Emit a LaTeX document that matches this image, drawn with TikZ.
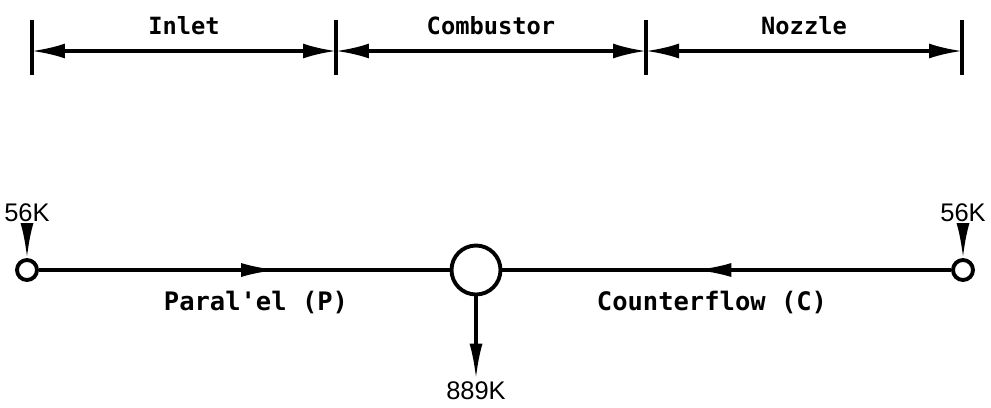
\documentclass[tikz,border=0pt]{standalone}
\usepackage{fontspec}
\setmonofont{DejaVu Sans Mono}
\setsansfont{Liberation Sans}
\usetikzlibrary{arrows.meta,decorations.markings}

\tikzset{
  span/.style={{Latex[length=0.66cm,width=0.3cm]}-{Latex[length=0.66cm,width=0.3cm]}},
  feed/.style={-{Latex[length=0.7cm,width=0.26cm]}},
  flowmark/.style={postaction={decorate},
    decoration={markings, mark=at position #1 with {\arrow{Latex[length=0.72cm,width=0.28cm]}}}},
  junction/.style={circle, draw, line width=2.2pt, inner sep=0pt, minimum size=#1},
  seclabel/.style={font=\ttfamily\bfseries\fontsize{13.5}{15}\selectfont},
  flowlabel/.style={font=\ttfamily\bfseries\fontsize{14.5}{17}\selectfont},
  templabel/.style={font=\sffamily\fontsize{14.5}{16}\selectfont, inner sep=1pt}
}

\begin{document}
\begin{tikzpicture}[x=0.02cm,y=0.02cm,line width=1.8pt]
\useasboundingbox (0,0) rectangle (991,-407);

% engine sections
\foreach \n/\x in {a/32,b/336,c/646,d/962} {
  \coordinate (t\n) at (\x,-51);
  \draw (\x,-20) -- (\x,-75);
}
\draw[span] (ta) -- (tb) node[midway,above=5pt,seclabel] (inlet) {Inlet};
\draw[span] (tb) -- (tc) node[midway,above=5pt,seclabel] (comb) {Combustor};
\draw[span] (tc) -- (td) node[midway,above=5pt,seclabel] (nozz) {Nozzle};

% flow path
\node[junction=0.4cm] (inP) at (27,-270) {};
\node[junction=0.98cm] (mix) at (476,-270) {};
\node[junction=0.4cm] (inC) at (963,-270) {};

\draw[flowmark=0.58] (inP) -- (mix);
\draw[flowmark=0.57] (inC) -- (mix);

\node[flowlabel] (par) at (256,-302) {Paral'el (P)};
\node[flowlabel] (ctr) at (712,-302) {Counterflow (C)};

% temperatures
\node[templabel] (tP) at (27,-213) {56K};
\node[templabel] (tC) at (963,-213) {56K};
\node[templabel] (tOut) at (476,-391) {889K};

\draw[feed] (tP) -- (inP);
\draw[feed] (tC) -- (inC);
\draw[feed] (mix) -- (tOut);
\end{tikzpicture}
\end{document}
